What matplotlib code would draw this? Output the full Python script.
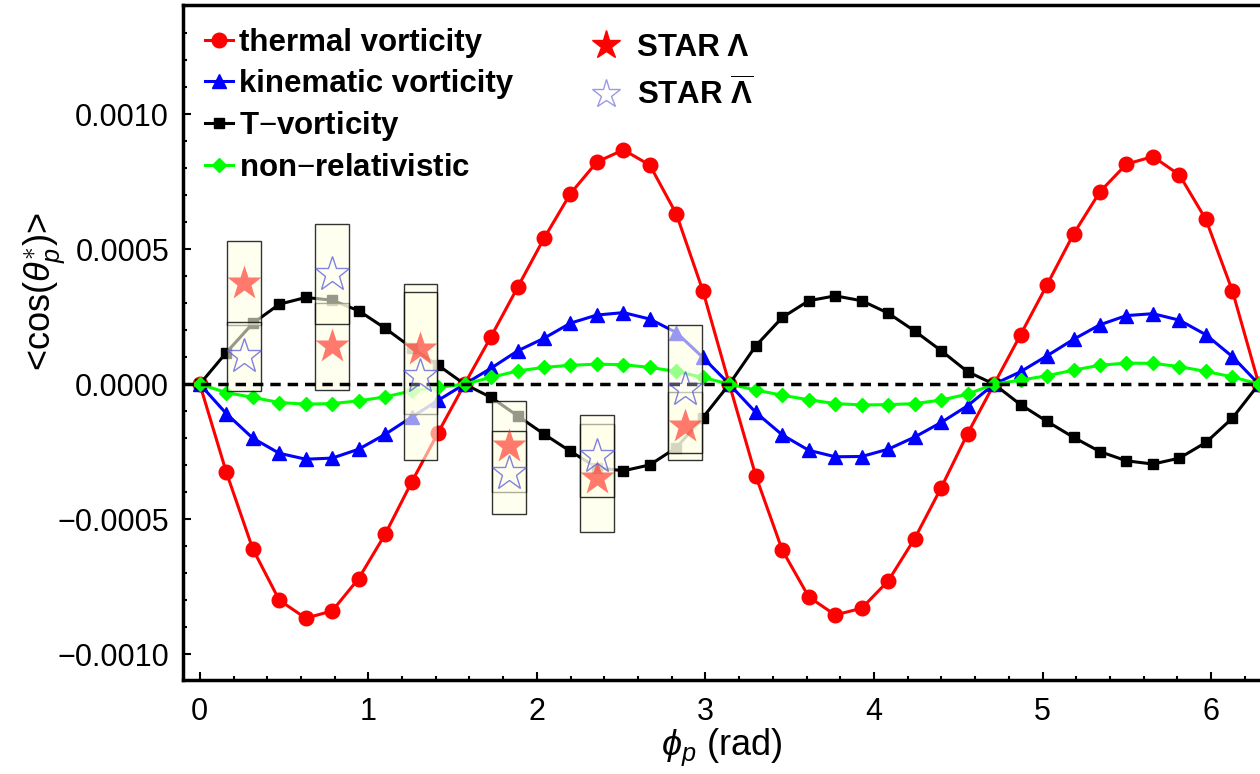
import numpy as np
import matplotlib
matplotlib.use("Agg")
import matplotlib.pyplot as plt
from matplotlib.lines import Line2D

plt.rcParams['font.family'] = ['Liberation Sans', 'DejaVu Sans']
plt.rcParams['mathtext.fontset'] = 'custom'
plt.rcParams['mathtext.rm'] = 'Liberation Sans'
plt.rcParams['mathtext.it'] = 'Liberation Sans:italic'
plt.rcParams['mathtext.bf'] = 'Liberation Sans:bold'

# phi_p grid: 41 points from 0 to 2*pi
phi = np.linspace(0, 2 * np.pi, 41)

thermal = [0.0, -0.000326, -0.00061, -0.0008, -0.000867, -0.00084, -0.00072, -0.000556, -0.000363, -0.00018,
           0.0, 0.000176, 0.000358, 0.00054, 0.000706, 0.000823, 0.000868, 0.000811, 0.00063, 0.000346,
           0.0, -0.00034, -0.000615, -0.000788, -0.000855, -0.00083, -0.000729, -0.000572, -0.000384, -0.000183,
           0.0, 0.000183, 0.000368, 0.000556, 0.000713, 0.000815, 0.000843, 0.000775, 0.00061, 0.000346,
           0.0]
kinematic = [0.0, -0.000109, -0.0002, -0.000256, -0.000278, -0.000274, -0.000241, -0.000186, -0.000122, -0.00006,
             0.0, 0.000059, 0.000123, 0.00017, 0.000226, 0.000256, 0.000265, 0.000241, 0.000191, 0.000099,
             0.0, -0.000105, -0.000188, -0.000245, -0.000269, -0.000268, -0.000241, -0.000196, -0.000142, -0.00008,
             0.0, 0.000046, 0.000105, 0.000166, 0.00022, 0.000254, 0.000261, 0.000237, 0.000183, 0.000102,
             0.0]
tvort = [0.0, 0.000117, 0.000225, 0.000296, 0.000321, 0.000311, 0.000272, 0.000207, 0.000135, 0.00007,
         0.0, -0.000049, -0.000117, -0.000185, -0.000249, -0.000309, -0.000321, -0.000299, -0.000235, -0.000124,
         0.0, 0.000142, 0.000247, 0.000309, 0.000327, 0.000309, 0.000263, 0.000197, 0.000124, 0.000046,
         0.0, -0.000076, -0.000138, -0.000197, -0.00025, -0.000284, -0.000296, -0.000274, -0.000216, -0.000126,
         0.0]
nonrel = [0.0, -0.000031, -0.000049, -0.000068, -0.000074, -0.000072, -0.000062, -0.000047, -0.000025, -0.000012,
          0.0, 0.000025, 0.000049, 0.000062, 0.00007, 0.000074, 0.000072, 0.000062, 0.000047, 0.000025,
          0.0, -0.000022, -0.000041, -0.000058, -0.000072, -0.000077, -0.000076, -0.000072, -0.000059, -0.000037,
          0.0, 0.000015, 0.000031, 0.000052, 0.00007, 0.000078, 0.000077, 0.000065, 0.000047, 0.000027,
          0.0]

# STAR data: bin centers, values and systematic half-heights
star_phi = [np.pi / 12, 3 * np.pi / 12, 5 * np.pi / 12, 7 * np.pi / 12, 9 * np.pi / 12, 11 * np.pi / 12]
lam = [0.000375, 0.00014, 0.00013, -0.00023, -0.000347, -0.000155]
lam_sys = [0.000157, 0.00016, 0.00024, 0.000169, 0.0002, 0.000125]
alam = [0.000104, 0.000407, 0.00003, -0.000328, -0.000266, -0.000019]
alam_sys = [0.000128, 0.000186, 0.00031, 0.000153, 0.000152, 0.000237]

fig = plt.figure(figsize=(12.6, 7.74), dpi=100)
ax = fig.add_axes([0.1452, 0.1214, 0.8548, 0.872])

ax.plot(phi, thermal, '-o', color='#ff0000', lw=2.2, ms=10.5, label='thermal vorticity', zorder=2)
ax.plot(phi, kinematic, '-^', color='#0000ff', lw=2.2, ms=9.5, label='kinematic vorticity', zorder=2)
ax.plot(phi, tvort, '-s', color='black', lw=2.2, ms=7.5, label=r'T$-$vorticity', zorder=2)
ax.plot(phi, nonrel, '-D', color='#00ff00', lw=2.2, ms=7, label=r'non$-$relativistic', zorder=2)

# systematic boxes
for x, v, s in zip(star_phi, lam, lam_sys):
    ax.bar(x, 2 * s, bottom=v - s, width=0.2, color=(1, 1, 0.9, 0.6), edgecolor=(0, 0, 0, 0.8), lw=1, zorder=3)
for x, v, s in zip(star_phi, alam, alam_sys):
    ax.bar(x, 2 * s, bottom=v - s, width=0.2, color=(1, 1, 0.9, 0.6), edgecolor=(0, 0, 0, 0.8), lw=1, zorder=3)

ax.axhline(0, color='black', lw=2.5, ls=(0, (3, 2)), zorder=3.5)

ax.plot(star_phi, lam, ls='none', marker='*', ms=26, color=(1, 0.2, 0.15, 0.65), mec='none', zorder=4)
ax.plot(star_phi, alam, ls='none', marker='*', ms=26, mfc=(1, 1, 1, 0.3), mec=(0.3, 0.3, 0.85, 0.7), mew=1, zorder=5)

ax.set_xlim(-0.1, 6.29)
ax.set_ylim(-0.001096, 0.001404)
ax.set_xticks([0, 1, 2, 3, 4, 5, 6])
ax.set_xticks(np.arange(0, 6.3, 0.2), minor=True)
ax.set_yticks([-0.001, -0.0005, 0, 0.0005, 0.001])
ax.set_yticklabels(['\u22120.0010', '\u22120.0005', '0.0000', '0.0005', '0.0010'])
ax.set_yticks(np.arange(-0.001, 0.00141, 0.0001), minor=True)
ax.tick_params(which='both', direction='in', labelsize=22, width=1.5)
ax.tick_params(which='major', length=6, pad=10)
ax.tick_params(which='minor', length=3)
ax.tick_params(axis='x', pad=12)
for side in ['left', 'bottom', 'top']:
    ax.spines[side].set_linewidth(2.5)
ax.spines['right'].set_visible(False)

ax.set_xlabel(r'$\phi_p$ (rad)', fontsize=26, labelpad=0)
ax.set_ylabel(r'<cos($\theta_p^{\ast}$)>', fontsize=26)
ax.yaxis.set_label_coords(-0.108, 0.575)

leg1 = ax.legend(loc='upper left', bbox_to_anchor=(0.0, 0.998), frameon=False,
                 prop={'weight': 'bold', 'size': 22.5}, handlelength=0.9, handletextpad=0.2,
                 labelspacing=0.33, borderaxespad=0.3)
ax.add_artist(leg1)

star_handles = [Line2D([], [], ls='none', marker='*', ms=21, color='#ff0000'),
                Line2D([], [], ls='none', marker='*', ms=21, mfc='white', mec=(0.6, 0.6, 0.9), mew=1)]
ax.legend(star_handles, ['STAR \u039b', r'STAR $\overline{\mathbf{\Lambda}}$'], loc='upper left',
          bbox_to_anchor=(0.352, 1.0), frameon=False, prop={'weight': 'bold', 'size': 22.5},
          handlelength=1.0, handletextpad=0.5, labelspacing=0.45)

fig.savefig('out.png', dpi=100)
